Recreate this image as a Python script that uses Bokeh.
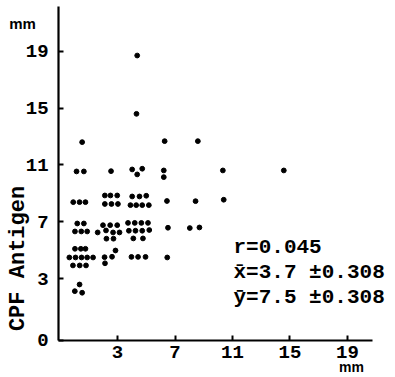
from bokeh.plotting import figure
from bokeh.models import Range1d, FixedTicker, CustomJSTickFormatter, Label, ColumnDataSource
from bokeh.embed import file_html
from bokeh.resources import INLINE
import math

# ---- data ----
x_vals = [
    # column near 1
    0.54, 0.15, 0.66,
    -0.08, 0.36, 0.77,
    0.20, 0.66,
    0.04, 0.48, 0.89,
    0.04, 0.45, 0.77,
    -0.35, 0.08, 0.50, 0.89, 1.30,
    -0.10, 0.37, 0.81,
    0.36, 0.03, 0.54,
    # column near 2.5
    2.55,
    2.12, 2.51, 2.98,
    2.12, 2.58, 3.03,
    1.99, 2.49, 2.98,
    1.62, 2.20, 2.69, 3.14,
    2.23, 2.72,
    2.86, 2.62, 2.10, 2.13,
    # column near 4.5
    4.37, 4.32,
    4.02, 4.72, 4.37,
    4.02, 4.53, 5.00,
    3.90, 4.30, 4.72, 5.18,
    3.73, 4.20, 4.66, 5.12,
    3.79, 4.25, 4.72, 5.21,
    4.10, 4.77,
    3.97, 4.43, 4.95,
    # column near 6.4
    6.28, 6.22, 6.22, 6.44, 6.51, 6.46,
    # column near 8.5
    8.59, 8.43, 8.03, 8.70,
    # column near 10.4
    10.33, 10.39,
    # lone point
    14.57,
]
y_vals = [
    12.60, 10.54, 10.54,
    8.38, 8.38, 8.38,
    6.88, 6.88,
    6.32, 6.32, 6.32,
    5.10, 5.10, 5.10,
    4.49, 4.49, 4.49, 4.49, 4.49,
    3.93, 3.93, 3.93,
    2.59, 2.12, 2.01,
    10.56,
    8.85, 8.85, 8.85,
    8.25, 8.25, 8.25,
    6.76, 6.76, 6.76,
    6.25, 6.39, 6.25, 6.25,
    5.81, 5.81,
    4.98, 4.54, 4.51, 4.08,
    18.69, 14.59,
    10.68, 10.73, 10.33,
    8.78, 8.78, 8.83,
    8.17, 8.17, 8.17, 8.17,
    6.92, 6.92, 6.92, 6.92,
    6.37, 6.37, 6.37, 6.42,
    5.83, 5.83,
    4.53, 4.53, 4.53,
    12.67, 10.61, 10.14, 8.46, 6.58, 4.49,
    12.67, 8.45, 6.56, 6.60,
    10.61, 8.55,
    10.61,
]
x_ticks = [3, 7, 11, 15, 19]
y_ticks = [3, 7, 11, 15, 19]
y_title = "CPF Antigen"
unit = "mm"
stats = ["r=0.045", "x\u0304=3.7 \u00b10.308", "\u0233=7.5 \u00b10.308"]

# axis extents (origin and ends)
AX0, AX1 = -1.10, 20.74
AY0, AY1 = -1.34, 22.14

MONO = "Liberation Mono"

p = figure(width=395, height=377, x_range=Range1d(-5.14, 22.34), y_range=Range1d(-3.95, 22.56),
           output_backend="svg", toolbar_location=None,
           min_border_left=0, min_border_right=0, min_border_top=0, min_border_bottom=0)
p.outline_line_color = None
p.grid.visible = False
p.background_fill_color = "white"
p.border_fill_color = "white"

src = ColumnDataSource(dict(x=x_vals, y=y_vals))
p.scatter("x", "y", source=src, size=4.8, color="black")

for ax in (p.xaxis[0], p.yaxis[0]):
    ax.axis_line_width = 2.2
    ax.axis_line_color = "black"
    ax.major_tick_in = 5
    ax.major_tick_out = 0
    ax.major_tick_line_width = 2
    ax.minor_tick_line_color = None
    ax.major_label_text_font = MONO
    ax.major_label_text_font_style = "bold"
    ax.major_label_text_font_size = "19px"
    ax.major_label_text_color = "black"

xa = p.xaxis[0]
xa.fixed_location = AY0
xa.bounds = (AX0, AX1)
xa.ticker = FixedTicker(ticks=x_ticks)
xa.major_label_standoff = 6
xa.major_label_text_align = "right"

ya = p.yaxis[0]
ya.fixed_location = AX0
ya.bounds = (AY0, AY1)
ya.ticker = FixedTicker(ticks=[AY0] + y_ticks)
ya.formatter = CustomJSTickFormatter(code="return tick < 0 ? '0' : String(tick)")
ya.major_label_standoff = 10

# y-axis title
p.add_layout(Label(x=-3.90, y=4.42, text=y_title, angle=math.pi / 2,
                   text_font=MONO, text_font_style="bold", text_font_size="22px",
                   text_align="center", text_baseline="middle", text_color="black"))
# unit labels
p.add_layout(Label(x=-3.61, y=20.94, text=unit, text_font="Liberation Sans",
                   text_font_style="bold", text_font_size="15px",
                   text_align="center", text_baseline="middle", text_color="black"))
p.add_layout(Label(x=19.28, y=-3.24, text=unit, text_font="Liberation Sans",
                   text_font_style="bold", text_font_size="14px",
                   text_align="center", text_baseline="middle", text_color="black"))
# statistics
for txt, yy in zip(stats, [5.19, 3.44, 1.68]):
    p.add_layout(Label(x=11.07, y=yy, text=txt, text_font=MONO, text_font_style="bold",
                       text_font_size="21px", text_align="left",
                       text_baseline="alphabetic", text_color="black"))

open("out.html", "w").write(file_html(p, INLINE))
